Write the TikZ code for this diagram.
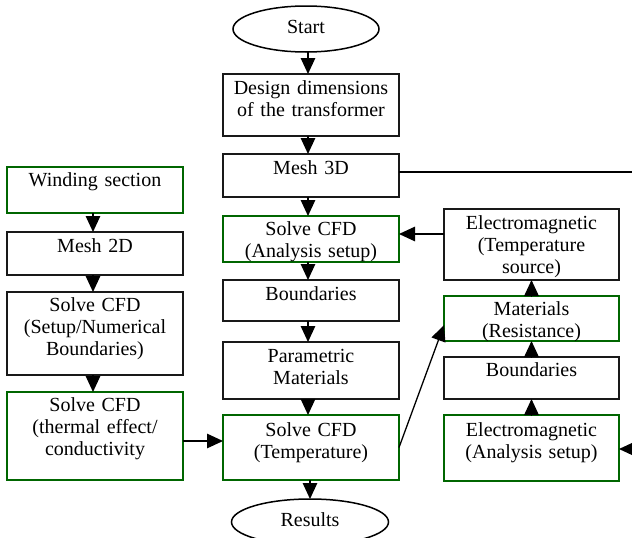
\documentclass[tikz,border=0pt]{standalone}
\usepackage{fontspec}
\setmainfont{Liberation Serif}
\usetikzlibrary{arrows.meta,shapes.geometric}
\definecolor{boxgreen}{RGB}{0,102,0}
\tikzset{
  box/.style={draw=black!90, line width=1.7pt, rectangle, inner sep=0pt, outer sep=0pt, anchor=north west},
  gbox/.style={box, draw=boxgreen},
  oval/.style={draw, line width=1.5pt, ellipse, inner sep=0pt, outer sep=0pt},
  txt/.style={font=\fontsize{20}{22}\selectfont, align=center, text width=176pt, inner sep=0pt, anchor=base},
  arr/.style={line width=1.3pt, -{Triangle[width=14.5pt,length=16pt]}},
  ln/.style={line width=1.3pt}
}
\begin{document}
\begin{tikzpicture}[x=1pt,y=-1pt]
\useasboundingbox (0,0) rectangle (632,538);
% ovals
\node[oval, minimum width=146pt, minimum height=46pt] (start) at (306,29) {};
\node[txt] (start-t) at (306,33.5) {Start};
\node[oval, minimum width=157pt, minimum height=46pt] (results) at (310,522) {};
\node[txt] (results-t) at (310,526) {Results};
% center column
\node[box,  minimum width=176pt, minimum height=62pt] (design) at (223,74) {};
\node[txt] (design-t) at ([yshift=-20pt]design.north) {Design dimensions\\of the transformer};
\node[box,  minimum width=176pt, minimum height=43pt] (mesh3d) at (223,154) {};
\node[txt] (mesh3d-t) at ([yshift=-20pt]mesh3d.north) {Mesh 3D};
\node[gbox, minimum width=176pt, minimum height=46pt] (anasetup) at (223,216) {};
\node[txt] (anasetup-t) at ([yshift=-19.5pt]anasetup.north) {Solve CFD\\(Analysis setup)};
\node[box,  minimum width=176pt, minimum height=41pt] (bound1) at (223,280) {};
\node[txt] (bound1-t) at ([yshift=-20pt]bound1.north) {Boundaries};
\node[box,  minimum width=176pt, minimum height=57pt] (param) at (223,342) {};
\node[txt] (param-t) at ([yshift=-20pt]param.north) {Parametric\\Materials};
\node[gbox, minimum width=176pt, minimum height=65pt] (temp) at (223,415) {};
\node[txt] (temp-t) at ([yshift=-21pt]temp.north) {Solve CFD\\(Temperature)};
% right column
\node[box,  minimum width=175pt, minimum height=71pt] (emts) at (444,209) {};
\node[txt] (emts-t) at ([yshift=-20pt]emts.north) {Electromagnetic\\(Temperature\\source)};
\node[gbox, minimum width=175pt, minimum height=45pt] (mat) at (444,296) {};
\node[txt] (mat-t) at ([yshift=-19.5pt]mat.north) {Materials\\(Resistance)};
\node[box,  minimum width=175pt, minimum height=42pt] (bound2) at (444,357) {};
\node[txt] (bound2-t) at ([yshift=-19.5pt]bound2.north) {Boundaries};
\node[gbox, minimum width=175pt, minimum height=66pt] (emas) at (444,415) {};
\node[txt] (emas-t) at ([yshift=-21pt]emas.north) {Electromagnetic\\(Analysis setup)};
% left column
\node[gbox, minimum width=176pt, minimum height=46pt] (wind) at (7,167) {};
\node[txt] (wind-t) at ([yshift=-19.5pt]wind.north) {Winding section};
\node[box,  minimum width=176pt, minimum height=43pt] (mesh2d) at (7,232) {};
\node[txt] (mesh2d-t) at ([yshift=-20.5pt]mesh2d.north) {Mesh 2D};
\node[box,  minimum width=176pt, minimum height=83pt] (setup) at (7,292) {};
\node[txt] (setup-t) at ([yshift=-19.5pt]setup.north) {Solve CFD\\(Setup/Numerical\\Boundaries)};
\node[gbox, minimum width=176pt, minimum height=88pt] (thermal) at (7,392) {};
\node[txt] (thermal-t) at ([yshift=-19.5pt]thermal.north) {Solve CFD\\(thermal effect/\\conductivity};
% helper coordinates
\coordinate (xc) at (308,0);
\coordinate (xl) at (93,0);
\coordinate (yem) at (0,234);
\coordinate (yth) at (0,441);
\coordinate (ymat) at (0,325);
\coordinate (ymesh) at (0,172);
\coordinate (edgeA) at (632,172);
\coordinate (edgeB) at (632,449);
% center column arrows
\draw[arr] (start.south -| xc) -- (design.north -| xc);
\draw[arr] (design.south -| xc) -- (mesh3d.north -| xc);
\draw[arr] (mesh3d.south -| xc) -- (anasetup.north -| xc);
\draw[arr] (anasetup.south -| xc) -- (bound1.north -| xc);
\draw[arr] (bound1.south -| xc) -- (param.north -| xc);
\draw[arr] (param.south -| xc) -- (temp.north -| xc);
\draw[arr] (temp.south -| results.north) -- (results.north);
% left column arrows
\draw[arr] (wind.south -| xl) -- (mesh2d.north -| xl);
\draw[arr] (mesh2d.south -| xl) -- (setup.north -| xl);
\draw[arr] (setup.south -| xl) -- (thermal.north -| xl);
% right column arrows (upward)
\draw[arr] (emas.north) -- (bound2.south);
\draw[arr] (bound2.north) -- (mat.south);
\draw[arr] (mat.north) -- (emts.south);
% horizontal / diagonal
\draw[arr] (emts.west |- yem) -- (anasetup.east |- yem);
\draw[arr] (thermal.east |- yth) -- (temp.west |- yth);
\draw[arr] (temp.east) -- (mat.west |- ymat);
\draw[arr] (edgeB) -- (emas.east |- edgeB);
\draw[ln] (mesh3d.east |- ymesh) -- (edgeA);
\end{tikzpicture}
\end{document}
